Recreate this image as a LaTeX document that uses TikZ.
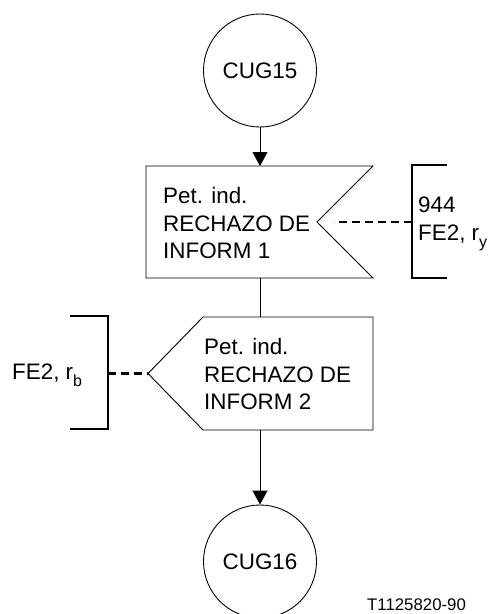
\documentclass[tikz,border=0pt]{standalone}
\usepackage{fontspec}
\setmainfont{Liberation Sans}
\usetikzlibrary{arrows.meta}
\newcommand{\sbs}[1]{\raisebox{-0.32em}{\fontsize{16}{16}\selectfont #1}}
\begin{document}
\begin{tikzpicture}[x=1pt,y=-1pt,
  thinline/.style={line width=0.9pt},
  thickline/.style={line width=2.6pt},
  dashline/.style={line width=2.8pt,dash pattern=on 8pt off 5pt},
  conn/.style={line width=0.9pt,-{Triangle[length=14pt,width=15pt]}},
  plain/.style={line width=0.9pt},
  term/.style={circle,draw,line width=0.9pt,minimum size=113pt,inner sep=0pt,font=\fontsize{22.4}{27.6}\selectfont},
  txt/.style={inner sep=0pt,align=left,font=\fontsize{22.4}{27.6}\selectfont},
  small/.style={inner sep=0pt,font=\fontsize{16.8}{20}\selectfont}]
\useasboundingbox (0,0) rectangle (501,614);
% terminals
\node[term] (c15) at (260,70.5) {CUG15};
\node[term] (c16) at (260,561.5) {CUG16};
% box 1 (input signal)
\coordinate (b1top) at (260,166);
\coordinate (b1bot) at (260,278);
\coordinate (b1notch) at (317,222);
\coordinate (b1dash) at (334,222);
\draw[thinline] (146,166) -- (373,166) -- (b1notch) -- (373,278) -- (146,278) -- cycle;
\node[txt,anchor=west] (t1) at (163,223) {Pet. ind.\\RECHAZO DE\\INFORM 1};
% box 2 (output signal)
\coordinate (b2top) at (260,317);
\coordinate (b2bot) at (260,430);
\coordinate (b2tip) at (148,373.5);
\draw[thinline] (203,317) -- (373,317) -- (373,430) -- (203,430) -- (b2tip) -- cycle;
\node[txt,anchor=west] (t2) at (204,374) {Pet. ind.\\RECHAZO DE\\INFORM 2};
% brackets
\coordinate (br1) at (412,222);
\draw[thickline] (447,165) -- (412,165) -- (412,278) -- (447,278);
\node[txt,anchor=west] (n1) at (418,224) {944\\FE2, r\sbs{y}};
\coordinate (br2) at (108,373.5);
\draw[thickline] (70,316) -- (108,316) -- (108,429) -- (70,429);
\node[txt,anchor=base west] (n2) at (12,379) {FE2, r\sbs{b}};
% connectors
\draw[conn] (c15.south) -- (b1top);
\draw[plain] (b1bot) -- (b2top);
\draw[conn] (b2bot) -- (c16.north);
\draw[dashline] (br1) -- (b1dash);
\draw[dashline] (br2) -- (b2tip);
% figure label
\node[small,anchor=base west] (lbl) at (367,610) {T1125820-90};
\end{tikzpicture}
\end{document}
